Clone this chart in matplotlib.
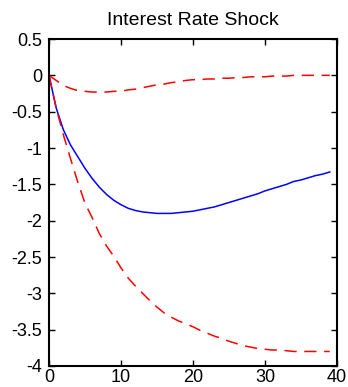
import matplotlib
matplotlib.use("Agg")
import matplotlib.pyplot as plt
import numpy as np

# impulse response horizon
periods = list(range(40))

# median response
median_resp = [0, -0.45, -0.75, -0.96, -1.12, -1.28, -1.42, -1.54, -1.64, -1.72,
               -1.78, -1.83, -1.86, -1.88, -1.89, -1.90, -1.90, -1.90, -1.89, -1.88,
               -1.87, -1.85, -1.83, -1.81, -1.78, -1.75, -1.72, -1.69, -1.66, -1.63,
               -1.59, -1.56, -1.53, -1.50, -1.46, -1.44, -1.41, -1.38, -1.36, -1.33]

# upper and lower bands
upper_band = [0, -0.07, -0.14, -0.18, -0.21, -0.22, -0.23, -0.23, -0.23, -0.22,
              -0.22, -0.20, -0.19, -0.17, -0.15, -0.13, -0.12, -0.10, -0.09, -0.07,
              -0.06, -0.06, -0.05, -0.05, -0.04, -0.04, -0.03, -0.03, -0.02, -0.02,
              -0.02, -0.01, -0.01, -0.01, 0.0, 0.0, 0.0, 0.0, 0.0, 0.0]

lower_band = [0, -0.45, -0.82, -1.15, -1.47, -1.76, -1.96, -2.18, -2.35, -2.49,
              -2.65, -2.79, -2.90, -3.00, -3.10, -3.19, -3.27, -3.33, -3.38, -3.42,
              -3.46, -3.51, -3.55, -3.59, -3.62, -3.66, -3.69, -3.72, -3.74, -3.76,
              -3.77, -3.78, -3.78, -3.79, -3.80, -3.80, -3.80, -3.80, -3.80, -3.80]

y_ticks = [0.5, 0, -0.5, -1, -1.5, -2, -2.5, -3, -3.5, -4]
y_labels = ['0.5', '0', '-0.5', '-1', '-1.5', '-2', '-2.5', '-3', '-3.5', '-4']
x_ticks = [0, 10, 20, 30, 40]

plt.rcParams['font.family'] = ['Liberation Sans', 'DejaVu Sans']
plt.rcParams['axes.unicode_minus'] = False

fig = plt.figure(figsize=(3.48, 3.87), dpi=100)
ax = fig.add_axes([49 / 348, 21 / 387, 288 / 348, 327 / 387])

ax.plot(periods, median_resp, color='#0000ff', lw=1.1)
ax.plot(periods, upper_band, color='#ff0000', lw=1.1, linestyle=(0, (8, 5)))
ax.plot(periods, lower_band, color='#ff0000', lw=1.1, linestyle=(0, (8, 5)))

ax.set_xlim(0, 40)
ax.set_ylim(-4, 0.5)
ax.set_xticks(x_ticks)
ax.set_yticks(y_ticks)
ax.set_yticklabels(y_labels)
ax.tick_params(direction='in', length=4, width=1, labelsize=13,
               top=True, right=True, pad=5)
ax.tick_params(axis='x', pad=2.5)
for sp in ax.spines.values():
    sp.set_linewidth(1.5)

ax.set_title('Interest Rate Shock', fontsize=14, pad=10)

fig.savefig('out.png', dpi=100)
